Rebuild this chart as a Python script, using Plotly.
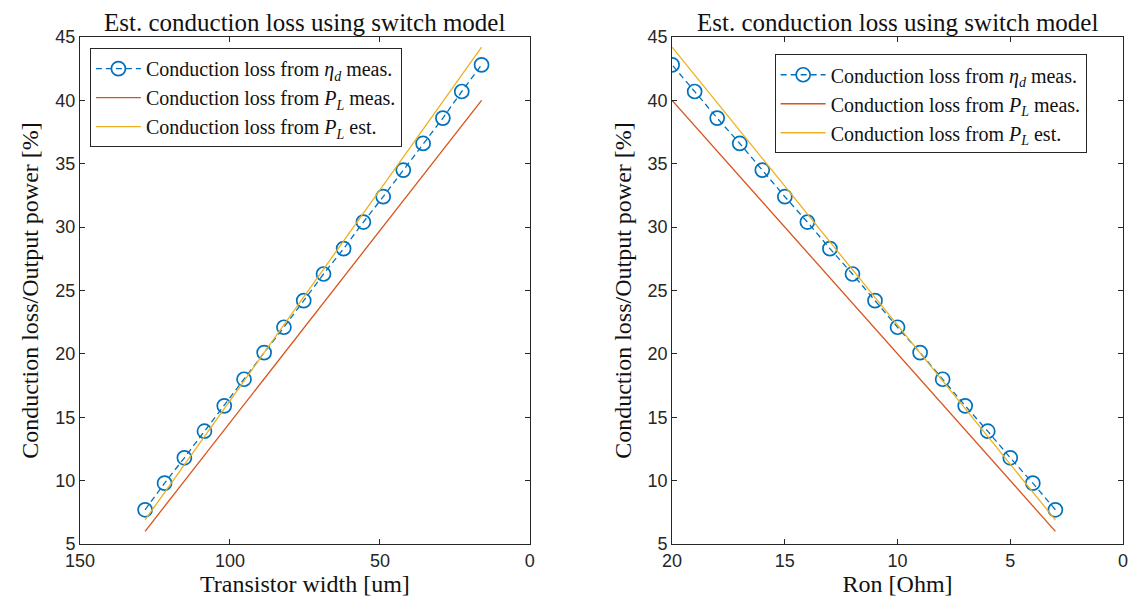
import plotly.graph_objects as go

# Data
width_um = [128.3, 121.8, 115.2, 108.5, 101.9, 95.3, 88.6, 82.0, 75.4,
            68.8, 62.1, 55.5, 48.9, 42.2, 35.6, 29.0, 22.7, 16.1]
ron_ohm = [3, 4, 5, 6, 7, 8, 9, 10, 11, 12, 13, 14, 15, 16, 17, 18, 19, 20]
loss_eta_meas = [7.7, 9.8, 11.8, 13.9, 15.9, 18.0, 20.1, 22.1, 24.2,
                 26.3, 28.3, 30.4, 32.4, 34.5, 36.6, 38.6, 40.7, 42.8]
width_ends = [128.3, 16.1]
ron_ends = [3, 20]
loss_pl_meas = [6.0, 40.0]
loss_pl_est = [6.9, 44.2]

names = ["Conduction loss from <i>η</i><sub><i>d</i></sub> meas.",
         "Conduction loss from <i>P</i><sub><i>L</i></sub> meas.",
         "Conduction loss from <i>P</i><sub><i>L</i></sub> est."]
title_text = "Est. conduction loss using switch model"
x_titles = ["Transistor width [um]", "Ron [Ohm]"]
y_title = "Conduction loss/Output power [%]"

BLUE, RED, YEL = "#0072BD", "#D95319", "#EDB120"
SERIF = "Liberation Serif, Times New Roman, serif"
SANS = "Liberation Sans, Arial, sans-serif"
AX = "#262626"

fig = go.Figure()

for i, (xs, xe, xa, ya, leg) in enumerate([(width_um, width_ends, "x", "y", "legend"),
                                             (ron_ohm, ron_ends, "x2", "y2", "legend2")]):
    fig.add_trace(go.Scatter(x=xs, y=loss_eta_meas, mode="lines+markers", name=names[0],
                             line=dict(color=BLUE, width=1.3, dash="6px,4px"),
                             marker=dict(symbol="circle-open", size=14, color=BLUE,
                                         line=dict(width=1.7, color=BLUE)),
                             xaxis=xa, yaxis=ya, legend=leg))
    fig.add_trace(go.Scatter(x=xe, y=loss_pl_meas, mode="lines", name=names[1],
                             line=dict(color=RED, width=1.3), xaxis=xa, yaxis=ya, legend=leg))
    fig.add_trace(go.Scatter(x=xe, y=loss_pl_est, mode="lines", name=names[2],
                             line=dict(color=YEL, width=1.3), xaxis=xa, yaxis=ya, legend=leg))

axis_common = dict(showline=True, linecolor=AX, linewidth=1, mirror="ticks",
                   ticks="inside", ticklen=5, tickcolor=AX, tickwidth=1,
                   showgrid=False, zeroline=False,
                   tickfont=dict(family=SANS, size=18, color=AX))

legend_common = dict(bgcolor="white", bordercolor=AX, borderwidth=1,
                     font=dict(family=SERIF, size=20, color="#111"),
                     xanchor="left", yanchor="top", tracegroupgap=0,
                     itemwidth=45)

TFONT = dict(family=SERIF, size=24, color="#111")

fig.update_layout(
    width=1140, height=612,
    margin=dict(l=80, r=12, t=37, b=68),
    plot_bgcolor="white", paper_bgcolor="white",
    xaxis=dict(domain=[0, 0.4313], range=[150, 0], tickvals=[150, 100, 50, 0],
               title=dict(text=x_titles[0], font=TFONT, standoff=3),
               anchor="y", **axis_common),
    yaxis=dict(domain=[0, 1], range=[5, 45], tickvals=list(range(5, 50, 5)),
               title=dict(text=y_title, font=TFONT, standoff=9),
               anchor="x", **axis_common),
    xaxis2=dict(domain=[0.5677, 1.0], range=[20, 0], tickvals=[20, 15, 10, 5, 0],
                title=dict(text=x_titles[1], font=TFONT, standoff=3),
                anchor="y2", **axis_common),
    yaxis2=dict(domain=[0, 1], range=[5, 45], tickvals=list(range(5, 50, 5)),
                title=dict(text=y_title, font=TFONT, standoff=9),
                anchor="x2", **axis_common),
    legend=dict(x=0.0095, y=0.978, **legend_common),
    legend2=dict(x=0.666, y=0.966, **legend_common),
    showlegend=True,
)

for xc in [0.4313 / 2, (0.5677 + 1.0) / 2]:
    fig.add_annotation(text=title_text, xref="paper", yref="paper", x=xc, y=1,
                       yanchor="bottom", xanchor="center", showarrow=False, yshift=-1,
                       font=dict(family=SERIF, size=25, color="#111"))

fig.write_html("out.html")
